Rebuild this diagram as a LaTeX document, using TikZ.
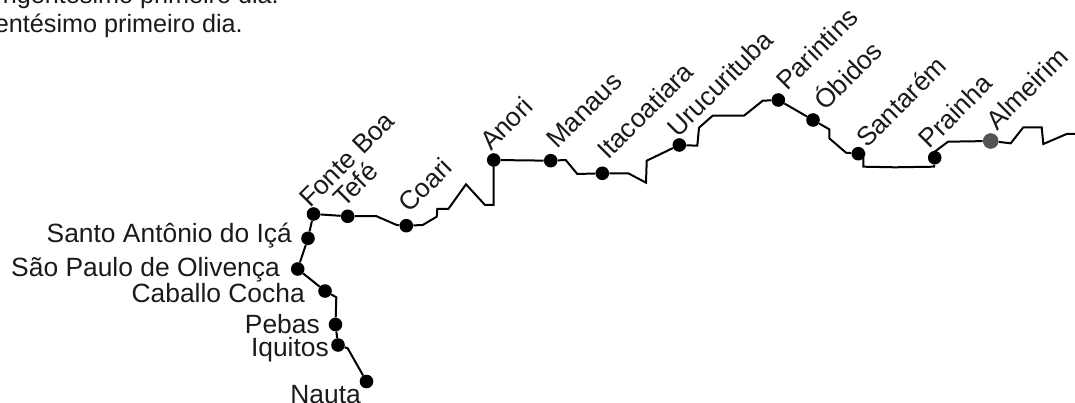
\documentclass[tikz,border=0pt]{standalone}
\usepackage{fontspec}
\setmainfont{Liberation Sans}
\tikzset{
 stop/.style={circle,fill=black,inner sep=0pt,minimum size=13.6pt},
 gstop/.style={circle,fill=stopgray,inner sep=0pt,minimum size=15.6pt},
 rv/.style={line width=2pt,black,line join=miter},
 hlab/.style={anchor=base east,inner sep=0pt,font=\fontsize{26.4}{26.4}\selectfont,text=txt},
 dlab/.style={anchor=base west,inner sep=0pt,rotate=45,font=\fontsize{26.4}{26.4}\selectfont,text=txt},
 para/.style={anchor=base east,inner sep=0pt,font=\fontsize{25.2}{25.2}\selectfont,text=txt}
}
\definecolor{stopgray}{HTML}{575352}
\definecolor{txt}{HTML}{1A1A1A}
\begin{document}
\begin{tikzpicture}[x=1pt,y=-1pt]
\useasboundingbox (0,0) rectangle (1075,403);
\clip (0,0) rectangle (1075,403);
\node[para] (t1) at (279,4) {ngentésimo primeiro dia.};
\node[para] (t2) at (243,33) {entésimo primeiro dia.};

\node[stop] (nauta) at (366.5,381.5) {};
\node[stop] (iquitos) at (338,345) {};
\node[stop] (pebas) at (335.5,324.5) {};
\node[stop] (caballo) at (325,291) {};
\node[stop] (saopaulo) at (297.7,269) {};
\node[stop] (santo) at (308,238.3) {};
\node[stop] (fonte) at (313.5,214) {};
\node[stop] (tefe) at (347.7,216.3) {};
\node[stop] (coari) at (406.3,225.7) {};
\node[stop] (anori) at (493.7,160) {};
\node[stop] (manaus) at (550.7,160.7) {};
\node[stop] (itaco) at (602.3,173.3) {};
\node[stop] (uruc) at (679.3,145) {};
\node[stop] (parin) at (778.3,100) {};
\node[stop] (obidos) at (813,120) {};
\node[stop] (santarem) at (858.3,153.7) {};
\node[stop] (prainha) at (934.7,157.7) {};
\node[gstop] (almeirim) at (990.7,141) {};
\coordinate (end) at (1075,134);

\draw[rv] (nauta) -- (347.7,348.3) -- (iquitos) -- (pebas) -- (336.3,297.3) -- (caballo) -- (saopaulo) -- (santo) -- (fonte) -- (tefe)
 -- (376,216) -- (396.7,225) -- (coari) -- (422.7,225) -- (436.7,216.7) -- (437.3,209) -- (448.3,209) -- (466,184.3) -- (485,205) -- (493.7,205) -- (anori)
 -- (manaus) -- (565.7,160) -- (577.3,174) -- (itaco) -- (628.3,173.3) -- (646,182.7) -- (646.7,160.7) -- (uruc)
 -- (697.3,145.7) -- (699,127.7) -- (712.7,115.7) -- (744,115.7) -- (762.7,100.7) -- (parin) -- (obidos) -- (829.3,129.3) -- (829.3,138.3) -- (846,152.7) -- (santarem)
 -- (863.3,153.7) -- (863.3,166.7) -- (895,167.3) -- (934,166.7) -- (prainha) -- (935,151.5) -- (948,141.7) -- (almeirim)
 -- (1010.7,143.3) -- (1023.3,127.3) -- (1041.7,127.3) -- (1043.3,144) -- (1066.7,134) -- (end);

\node[hlab] (l1) at (292,243) {Santo Antônio do Içá};
\node[hlab] (l2) at (280,276) {São Paulo de Olivença};
\node[hlab] (l3) at (305,302.7) {Caballo Cocha};
\node[hlab] (l4) at (320,333) {Pebas};
\node[hlab] (l5) at (329,356.7) {Iquitos};
\node[hlab] (l6) at (361,403) {Nauta};

\node[dlab] (d1) at (310,209) {Fonte Boa};
\node[dlab] (d2) at (344,209) {Tefé};
\node[dlab] (d3) at (409,214) {Coari};
\node[dlab] (d4) at (491,152) {Anori};
\node[dlab] (d5) at (557,150) {Manaus};
\node[dlab] (d6) at (608,161) {Itacoatiara};
\node[dlab] (d7) at (678,138.5) {Urucurituba};
\node[dlab] (d8) at (787,92) {Parintins};
\node[dlab] (d9) at (825,112) {Óbidos};
\node[dlab] (d10) at (867,149) {Santarém};
\node[dlab] (d11) at (929.5,150) {Prainha};
\node[dlab] (d12) at (997,131.5) {Almeirim};
\end{tikzpicture}
\end{document}
